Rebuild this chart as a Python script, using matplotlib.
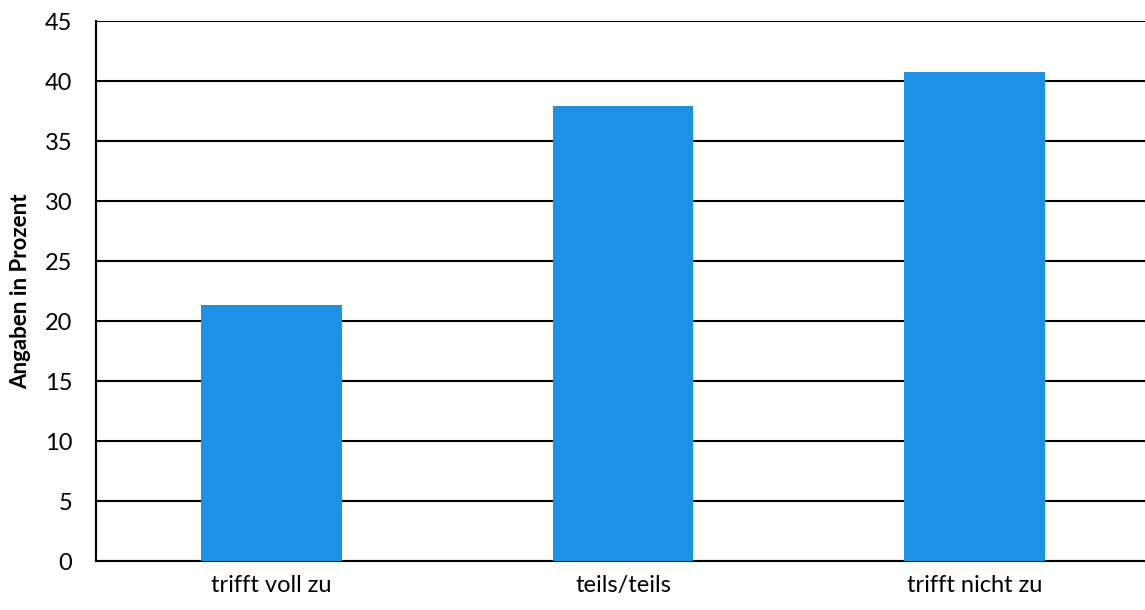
import matplotlib
matplotlib.use("Agg")
import matplotlib.pyplot as plt
import numpy as np

categories = ["trifft voll zu", "teils/teils", "trifft nicht zu"]
values = [21.33, 37.92, 40.75]
yticks = [0, 5, 10, 15, 20, 25, 30, 35, 40, 45]

plt.rcParams['font.family'] = ['Lato', 'DejaVu Sans']

fig = plt.figure(figsize=(11.45, 6.1), dpi=100)
ax = fig.add_axes([96 / 1145, 49 / 610, 1054 / 1145, 540 / 610])

x = np.arange(len(categories))
ax.bar(x, values, width=0.40, color="#1c91e6", zorder=3)

ax.set_xlim(-0.5, 2.5)
ax.set_ylim(0, 45)
ax.set_yticks(yticks)
ax.set_xticks(x)
ax.set_xticklabels(categories, fontsize=17)
ax.tick_params(axis='y', labelsize=17, length=0, pad=17)
ax.tick_params(axis='x', length=0, pad=10)
ax.yaxis.grid(True, color="black", linewidth=1.5, zorder=0)
ax.set_axisbelow(True)

for s in ["top", "right"]:
    ax.spines[s].set_visible(False)
ax.spines["left"].set_linewidth(1.5)
ax.spines["bottom"].set_linewidth(1.5)

ax.set_ylabel("Angaben in Prozent", fontsize=16, fontweight="bold")
ax.yaxis.set_label_coords(-0.062, 0.5)

fig.savefig("out.png", dpi=100)
